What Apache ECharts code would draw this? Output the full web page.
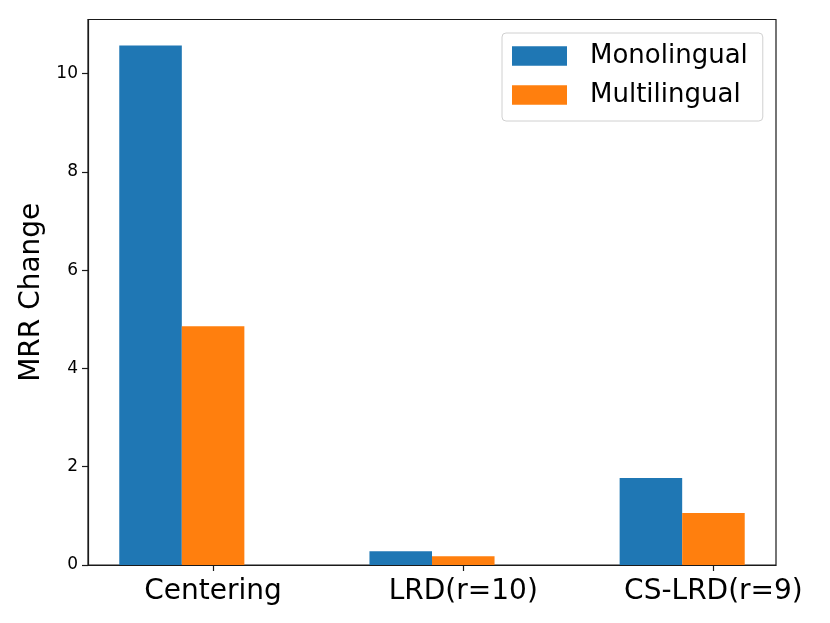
<!DOCTYPE html>
<html>
<head>
<meta charset="utf-8">
<script src="https://cdn.jsdelivr.net/npm/echarts@6/dist/echarts.min.js"></script>
<style>
  html, body { margin: 0; padding: 0; background: #fff; }
  #chart { width: 830px; height: 623px; }
</style>
</head>
<body>
<div id="chart"></div>
<script>
/* data */
var categories = ['Centering', 'LRD(r=10)', 'CS-LRD(r=9)'];
var monolingual = [10.57, 0.28, 1.77];
var multilingual = [4.86, 0.18, 1.06];
var yTicks = [0, 2, 4, 6, 8, 10];

var BAR_W = 0.25;   // bar width in category units, as in the matplotlib plot
var FONT = 'DejaVu Sans';

// custom bar: left edge at x + offset, width BAR_W, through the axes' scales
var barRenderer = function (offset) {
    return function (params, api) {
        var x = api.value(0);
        var v = api.value(1);
        var p0 = api.coord([x + offset, v]);
        var p1 = api.coord([x + offset + BAR_W, 0]);
        return {
            type: 'rect',
            shape: { x: p0[0], y: p0[1], width: p1[0] - p0[0], height: p1[1] - p0[1] },
            style: api.style()
        };
    };
};

var toPoints = function (vals) {
    return vals.map(function (v, i) { return [i, v]; });
};

var chart = echarts.init(document.getElementById('chart'));

chart.setOption({
    animation: false,
    textStyle: { fontFamily: FONT },
    grid: {
        left: 88, right: 54, top: 19.5, bottom: 58,
        show: true, borderColor: '#1a1a1a', borderWidth: 1.2,
        backgroundColor: 'transparent'
    },
    legend: {
        orient: 'vertical',
        left: 502, top: 33,
        padding: [10, 15, 13, 10],
        itemGap: 13,
        itemWidth: 55, itemHeight: 19.5,
        icon: 'rect',
        backgroundColor: '#fff',
        borderColor: '#d0d0d0', borderWidth: 1, borderRadius: 4,
        textStyle: { fontFamily: FONT, fontSize: 26, color: '#000', padding: [0, 0, 0, 18] },
        data: ['Monolingual', 'Multilingual']
    },
    xAxis: {
        type: 'value',
        min: -0.5, max: 2.25,
        splitLine: { show: false },
        axisLine: { show: true, onZero: false, lineStyle: { color: '#1a1a1a', width: 1.2 } },
        axisTick: { show: true, customValues: [0, 1, 2], length: 6, lineStyle: { color: '#1a1a1a', width: 1.2 } },
        axisLabel: {
            customValues: [0, 1, 2],
            formatter: function (v) { return categories[Math.round(v)]; },
            fontFamily: FONT, fontSize: 28, color: '#000', margin: 13
        }
    },
    yAxis: {
        type: 'value',
        min: 0, max: 11.1,
        name: 'MRR Change',
        nameLocation: 'middle',
        nameGap: 42,
        nameTextStyle: { fontFamily: FONT, fontSize: 28, color: '#000' },
        splitLine: { show: false },
        axisLine: { show: true, onZero: false, lineStyle: { color: '#1a1a1a', width: 1.2 } },
        axisTick: { show: true, customValues: yTicks, length: 6, lineStyle: { color: '#1a1a1a', width: 1.2 } },
        axisLabel: {
            customValues: yTicks,
            fontFamily: FONT, fontSize: 17, color: '#000', margin: 10
        }
    },
    series: [
        {
            name: 'Monolingual',
            type: 'custom',
            renderItem: barRenderer(-1.5 * BAR_W),
            encode: { x: 0, y: 1 },
            itemStyle: { color: '#1f77b4' },
            data: toPoints(monolingual)
        },
        {
            name: 'Multilingual',
            type: 'custom',
            renderItem: barRenderer(-0.5 * BAR_W),
            encode: { x: 0, y: 1 },
            itemStyle: { color: '#ff7f0e' },
            data: toPoints(multilingual)
        }
    ]
});
</script>
</body>
</html>
